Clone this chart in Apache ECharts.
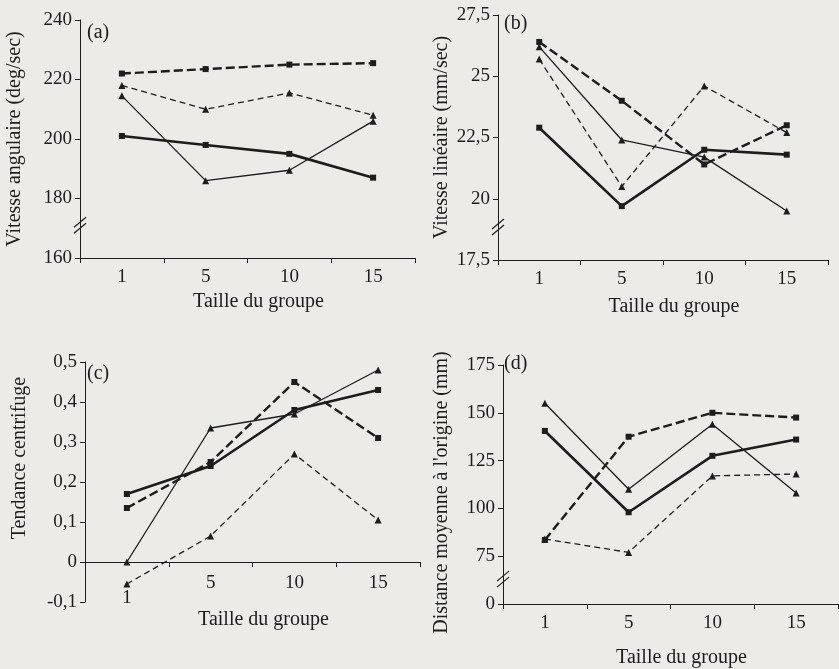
<!DOCTYPE html>
<html><head><meta charset="utf-8">
<script src="https://cdn.jsdelivr.net/npm/echarts@6/dist/echarts.min.js"></script>
<style>html,body{margin:0;padding:0;background:#ecebe8}#c{width:839px;height:669px}</style>
</head><body><div id="c"></div>
<script>
// ---------- data ----------
const categories = ['1', '5', '10', '15'];
const seriesNames = ['Carrés, trait épais', 'Carrés, tirets épais', 'Triangles, trait fin', 'Triangles, tirets fins'];

// (a) Vitesse angulaire (deg/sec)
const aThickSolidSquare = [201, 198, 195, 187];
const aThickDashSquare  = [222, 223.5, 225, 225.5];
const aThinSolidTri     = [214.5, 186, 189.5, 206];
const aThinDashTri      = [218, 210, 215.5, 208];
const aTicks = [160, 180, 200, 220, 240];

// (b) Vitesse linéaire (mm/sec)
const bThickSolidSquare = [22.9, 19.7, 22.0, 21.8];
const bThickDashSquare  = [26.4, 24.0, 21.4, 23.0];
const bThinSolidTri     = [26.2, 22.4, 21.7, 19.5];
const bThinDashTri      = [25.7, 20.5, 24.6, 22.7];
const bTicks = [17.5, 20, 22.5, 25, 27.5];

// (c) Tendance centrifuge
const cThickSolidSquare = [0.17, 0.24, 0.38, 0.43];
const cThickDashSquare  = [0.135, 0.25, 0.45, 0.31];
const cThinSolidTri     = [0, 0.335, 0.37, 0.48];
const cThinDashTri      = [-0.055, 0.065, 0.27, 0.105];
const cTicks = [-0.1, 0, 0.1, 0.2, 0.3, 0.4, 0.5];

// (d) Distance moyenne à l'origine (mm) — broken axis: bottom tick shown as "0"
const dThickSolidSquare = [140.5, 98, 127.5, 136];
const dThickDashSquare  = [83.5, 137.5, 150, 147.5];
const dThinSolidTri     = [155, 110, 144, 108];
const dThinDashTri      = [84, 77, 117, 118];
const dTickValues = [50, 75, 100, 125, 150, 175];
const dTickLabels = ['0', '75', '100', '125', '150', '175'];

const panelLetters = ['(a)', '(b)', '(c)', '(d)'];
const yTitles = ['Vitesse angulaire (deg/sec)', 'Vitesse linéaire (mm/sec)', 'Tendance centrifuge', "Distance moyenne à l'origine (mm)"];
const xTitle = 'Taille du groupe';

// ---------- layout / style ----------
const FONT = 'Liberation Serif';
const INK = '#1d1d1d';
const grids = [
  {left: 80, top: 20, width: 335, height: 238},
  {left: 498, top: 15, width: 330, height: 245},
  {left: 85, top: 362, width: 335, height: 240},
  {left: 503, top: 365, width: 335, height: 240}
];
const xNameGap = [34, 37, 8, 44];
const xLabelMargin = [12, 12, -26, 12];
const yNameGap = [55, 46, 55, 51];
const yNamePad = [[0,0,0,0],[0,0,0,0],[0,0,0,48],[0,16,0,0]];
const letterPos = [[87, 23], [504, 14], [87, 364], [504, 354]];

const styles = [
  {width: 2.6, type: 'solid', symbol: 'rect', size: 6},
  {width: 2.4, type: [9, 4], symbol: 'rect', size: 6},
  {width: 1.3, type: 'solid', symbol: 'triangle', size: 7},
  {width: 1.3, type: [6, 4], symbol: 'triangle', size: 7}
];

const panelData = [
  [aThickSolidSquare, aThickDashSquare, aThinSolidTri, aThinDashTri],
  [bThickSolidSquare, bThickDashSquare, bThinSolidTri, bThinDashTri],
  [cThickSolidSquare, cThickDashSquare, cThinSolidTri, cThinDashTri],
  [dThickSolidSquare, dThickDashSquare, dThinSolidTri, dThinDashTri]
];
const tickSets = [aTicks, bTicks, cTicks, dTickValues];

const comma = v => String(Math.round(v * 100) / 100).replace('.', ',');
const yFormatters = [
  v => String(v),
  v => comma(v),
  v => comma(v),
  v => { const i = dTickValues.indexOf(v); return i >= 0 ? dTickLabels[i] : ''; }
];

const tickText = {fontFamily: FONT, fontSize: 19, color: INK};
const nameText = {fontFamily: FONT, fontSize: 20, color: INK};

const xAxes = grids.map((g, i) => ({
  type: 'category', gridIndex: i, data: categories, boundaryGap: true,
  axisLine: {onZero: i === 2, lineStyle: {color: INK, width: 1}},
  axisTick: {show: true, length: 5, lineStyle: {color: INK}},
  axisLabel: Object.assign({}, tickText, {margin: xLabelMargin[i],
    formatter: (v, idx) => (i === 2 && idx === 0) ? '\n' + v : v, lineHeight: 15}),
  name: xTitle, nameLocation: 'middle', nameGap: xNameGap[i],
  nameTextStyle: Object.assign({}, nameText, {padding: [0, 0, 0, 22]}),
  splitLine: {show: false}
}));

const yAxes = grids.map((g, i) => {
  const t = tickSets[i];
  return {
    type: 'value', gridIndex: i, min: t[0], max: t[t.length - 1], interval: t[1] - t[0],
    axisLine: {show: true, lineStyle: {color: INK, width: 1}},
    axisTick: {show: true, length: 5, lineStyle: {color: INK}},
    axisLabel: Object.assign({}, tickText, {margin: 8, formatter: yFormatters[i]}),
    splitLine: {show: false},
    name: yTitles[i], nameLocation: 'middle', nameGap: yNameGap[i],
    nameTextStyle: Object.assign({}, nameText, {padding: yNamePad[i]})
  };
});

const series = [];
panelData.forEach((sets, gi) => {
  sets.forEach((vals, si) => {
    const st = styles[si];
    series.push({
      type: 'line', name: seriesNames[si], xAxisIndex: gi, yAxisIndex: gi,
      data: vals, symbol: st.symbol, symbolSize: st.size, showSymbol: true,
      lineStyle: {color: INK, width: st.width, type: st.type},
      itemStyle: {color: INK}, animation: false, z: 3
    });
  });
});

const chart = echarts.init(document.getElementById('c'), null, {renderer: 'canvas'});
chart.setOption({
  backgroundColor: '#ecebe8',
  animation: false,
  grid: grids.map(g => Object.assign({containLabel: false}, g)),
  xAxis: xAxes, yAxis: yAxes, series: series
});

// panel letters and axis-break marks
const graphics = panelLetters.map((t, i) => ({
  type: 'text', left: letterPos[i][0], top: letterPos[i][1],
  style: {text: t, font: '20px "Liberation Serif"', fill: INK}
}));
const breaks = [[0, 171], [1, 18.85], [3, 63]];
breaks.forEach(([gi, val]) => {
  const y = chart.convertToPixel({yAxisIndex: gi}, val);
  const x = grids[gi].left;
  [-3, 3].forEach(off => {
    graphics.push({type: 'line', shape: {x1: x - 6, y1: y + off + 5, x2: x + 6, y2: y + off - 5},
      style: {stroke: INK, lineWidth: 1.2}, z: 10});
  });
});
chart.setOption({graphic: graphics});
</script></body></html>
